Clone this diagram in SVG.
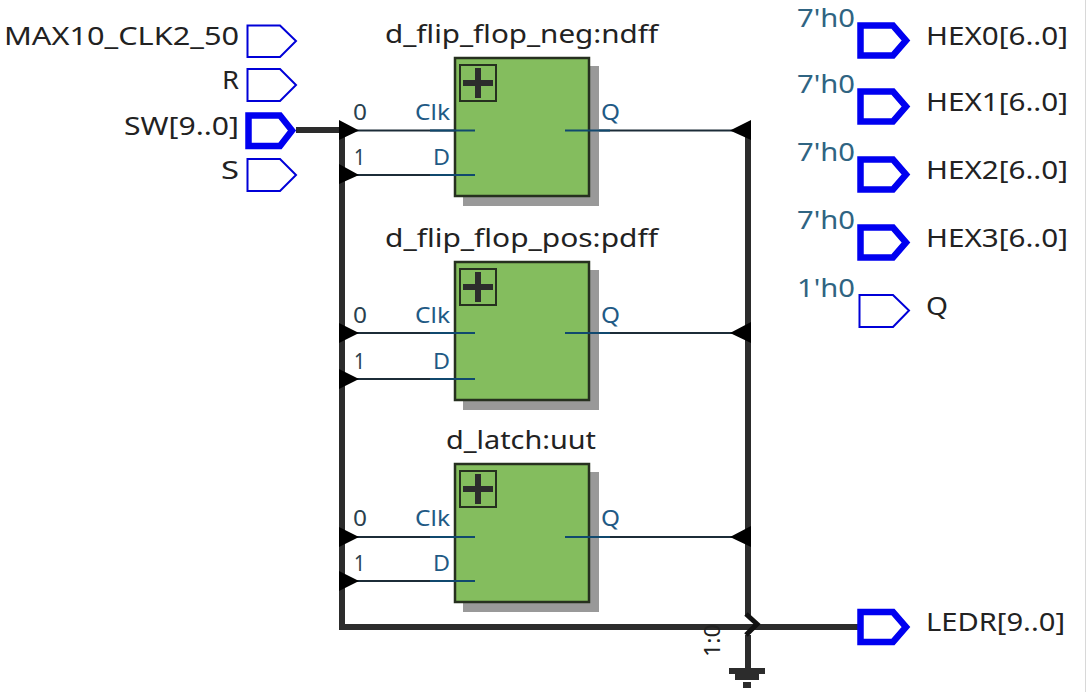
<svg xmlns="http://www.w3.org/2000/svg" width="1086" height="692" viewBox="0 0 1086 692">
<style>
text{font-family:"Noto Sans","Open Sans","Liberation Sans",sans-serif}
.n{font-size:26px;fill:#222}
.p{font-size:22px;fill:#1f5a85}
.b{font-size:22px;fill:#2a3f4e}
.h{font-size:26px;fill:#2f6482}
.i{fill:#fff;stroke:#0000d8;stroke-width:2}
.t{fill:#fff;stroke:#0000f0;stroke-width:6.500}
.bus{fill:none;stroke:#2c2c2c;stroke-width:6}
.w{fill:none;stroke:#1c2c38;stroke-width:2}
.s{fill:none;stroke:#10496e;stroke-width:2}
.ar{fill:#000}
.sh{fill:#999}
.bx{fill:#84bd5e;stroke:#26301f;stroke-width:2.500}
.pl{fill:none;stroke:#26301f;stroke-width:2}
.pp{fill:#2c2c2c}
</style>
<defs>
<g id="blk">
<rect class="sh" x="9" y="9" width="136" height="140"/>
<rect class="bx" x="1" y="1" width="134" height="138"/>
<rect class="pl" x="6" y="8" width="36" height="36"/>
<path class="pp" d="M21 11H27V23H39V29H27V41H21V29H9V23H21Z"/>
</g>
</defs>
<rect x="1085" y="0" width="1" height="692" fill="#d8d8d8"/>
<g id="connectors">
<path class="bus" d="M296 130H342V627H858"/>
<path class="bus" d="M748 123V616M748 635V668"/>
<path class="w" d="M342 130.500H454M342 175H454M342 333H454M342 379H454M342 537H454M342 581H454"/>
<path class="w" d="M590 130.500H745M590 333H745M590 537H745"/>
<g class="ar">
<path d="M339 120L359 130.500L339 140ZM339 164L359 175L339 184ZM339 323L359 333L339 343ZM339 369L359 379L339 389ZM339 527L359 537L339 547ZM339 571L359 581L339 591Z"/>
<path d="M751 120L730 130.500L751 140ZM751 322L730 333L751 343ZM751 526L730 537L751 547Z"/>
</g>
<path d="M746 614L757 624L746 635" fill="none" stroke="#111" stroke-width="5"/>
<path d="M729 668H765V674H759V680H735V674H729ZM743 682H751V688H743Z" fill="#2c2c2c"/>
</g>
<g id="MAX10_CLK2_50"><path class="i" d="M247.500 25.500H280L296 41L280 57H247.500Z"/><text class="n" x="4" y="45" textLength="235" lengthAdjust="spacingAndGlyphs">MAX10_CLK2_50</text></g>
<g id="R"><path class="i" d="M247.500 69H280L296 85L280 101H247.500Z"/><text class="n" x="222" y="89" textLength="17" lengthAdjust="spacingAndGlyphs">R</text></g>
<g id="SW"><path class="t" d="M248.500 115.500H280L292 130.500L280 146H248.500Z"/><text class="n" x="124" y="135" textLength="115" lengthAdjust="spacingAndGlyphs">SW[9..0]</text></g>
<g id="S"><path class="i" d="M247.500 159H280L296 175L280 191H247.500Z"/><text class="n" x="221" y="179" textLength="18" lengthAdjust="spacingAndGlyphs">S</text></g>
<g id="ndff"><text class="n" x="385" y="43" textLength="273" lengthAdjust="spacingAndGlyphs">d_flip_flop_neg:ndff</text><use href="#blk" x="454" y="57"/>
<path class="s" d="M430 130.500H475M430 175H475M565 130.500H610"/>
<text class="p" x="415" y="120" textLength="35" lengthAdjust="spacingAndGlyphs">Clk</text><text class="p" x="433" y="165" textLength="17" lengthAdjust="spacingAndGlyphs">D</text><text class="p" x="601" y="120" textLength="19" lengthAdjust="spacingAndGlyphs">Q</text><text class="b" x="353" y="120" textLength="14" lengthAdjust="spacingAndGlyphs">0</text><text class="b" x="354" y="165" textLength="11" lengthAdjust="spacingAndGlyphs">1</text></g>
<g id="pdff"><text class="n" x="385" y="247" textLength="273" lengthAdjust="spacingAndGlyphs">d_flip_flop_pos:pdff</text><use href="#blk" x="454" y="261"/>
<path class="s" d="M430 333H475M430 379H475M565 333H610"/>
<text class="p" x="415" y="323" textLength="35" lengthAdjust="spacingAndGlyphs">Clk</text><text class="p" x="433" y="369" textLength="17" lengthAdjust="spacingAndGlyphs">D</text><text class="p" x="601" y="323" textLength="19" lengthAdjust="spacingAndGlyphs">Q</text><text class="b" x="353" y="323" textLength="14" lengthAdjust="spacingAndGlyphs">0</text><text class="b" x="354" y="369" textLength="11" lengthAdjust="spacingAndGlyphs">1</text></g>
<g id="uut"><text class="n" x="446" y="449" textLength="150" lengthAdjust="spacingAndGlyphs">d_latch:uut</text><use href="#blk" x="454" y="463"/>
<path class="s" d="M430 537H475M430 581H475M565 537H610"/>
<text class="p" x="415" y="526" textLength="35" lengthAdjust="spacingAndGlyphs">Clk</text><text class="p" x="433" y="571" textLength="17" lengthAdjust="spacingAndGlyphs">D</text><text class="p" x="601" y="526" textLength="19" lengthAdjust="spacingAndGlyphs">Q</text><text class="b" x="353" y="526" textLength="14" lengthAdjust="spacingAndGlyphs">0</text><text class="b" x="354" y="571" textLength="11" lengthAdjust="spacingAndGlyphs">1</text></g>
<g id="HEX0"><path class="t" d="M860.500 25.500H893L906 40.500L893 55.500H860.500Z"/><text class="h" x="797" y="27" textLength="58" lengthAdjust="spacingAndGlyphs">7'h0</text><text class="n" x="926" y="45" textLength="142" lengthAdjust="spacingAndGlyphs">HEX0[6..0]</text></g>
<g id="HEX1"><path class="t" d="M860.500 91.500H893L906 106.500L893 121.500H860.500Z"/><text class="h" x="797" y="93" textLength="58" lengthAdjust="spacingAndGlyphs">7'h0</text><text class="n" x="926" y="111" textLength="142" lengthAdjust="spacingAndGlyphs">HEX1[6..0]</text></g>
<g id="HEX2"><path class="t" d="M860.500 159.500H893L906 174.500L893 189.500H860.500Z"/><text class="h" x="797" y="161" textLength="58" lengthAdjust="spacingAndGlyphs">7'h0</text><text class="n" x="926" y="179" textLength="142" lengthAdjust="spacingAndGlyphs">HEX2[6..0]</text></g>
<g id="HEX3"><path class="t" d="M860.500 227.500H893L906 242.500L893 257.500H860.500Z"/><text class="h" x="797" y="229" textLength="58" lengthAdjust="spacingAndGlyphs">7'h0</text><text class="n" x="926" y="247" textLength="142" lengthAdjust="spacingAndGlyphs">HEX3[6..0]</text></g>
<g id="Q"><path class="i" d="M859.500 295H893L909 310.500L893 327H859.500Z"/><text class="h" x="797" y="297" textLength="58" lengthAdjust="spacingAndGlyphs">1'h0</text><text class="n" x="926" y="315" textLength="22" lengthAdjust="spacingAndGlyphs">Q</text></g>
<g id="LEDR"><path class="t" d="M860.500 612H893L906 627L893 642H860.500Z"/><text class="n" x="926" y="631" textLength="139" lengthAdjust="spacingAndGlyphs">LEDR[9..0]</text></g>
<text class="b" transform="translate(720 657) rotate(-90)" x="0" y="0" textLength="33" lengthAdjust="spacingAndGlyphs" style="fill:#222">1:0</text>
</svg>
